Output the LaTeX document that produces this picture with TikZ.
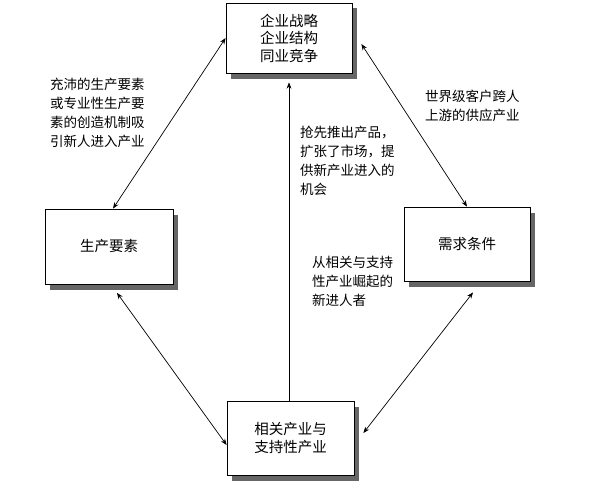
\documentclass[tikz,border=0pt]{standalone}
\usepackage{fontspec}
\setmainfont{Noto Sans CJK SC}
\usetikzlibrary{positioning}
\usetikzlibrary{calc}
\usetikzlibrary{arrows.meta}
\tikzset{
    every picture/.append style={
        >={Stealth[length=2.2mm,width=1.7mm]}
    }
}
\tikzset{
    block/.style={shape=rectangle,draw=black,line width=0.8pt,fill=white,align=center,
        font=\fontsize{14.5}{17.5}\selectfont},
    boxshadow/.style={fill=black!60,draw=none},
    note/.style={anchor=north west,inner sep=0pt,align=left,font=\fontsize{13.5}{19}\selectfont},
    link/.style={line width=0.7pt},
}

\begin{document}
\begin{tikzpicture}[x=1pt,y=-1pt]
		\useasboundingbox (0,0) rectangle (612,495);
		% shadow boxes, drawn first
		\path[boxshadow] (231,8) -- (357,8) -- (357,79) -- (231,79) -- cycle;
		\path[boxshadow] (50,215) -- (178,215) -- (178,290) -- (50,290) -- cycle;
		\path[boxshadow] (409,213) -- (535,213) -- (535,287) -- (409,287) -- cycle;
		\path[boxshadow] (232,407) -- (359,407) -- (359,481) -- (232,481) -- cycle;
		
		\node[block,minimum width=126pt,minimum height=70pt] (firm) at (289,38) {企业战略\\企业结构\\同业竞争};
		\node[block,minimum width=128pt,minimum height=75pt] (factor) at (109,246.5) {生产要素};
		\node[block,minimum width=126pt,minimum height=74pt] (demand) at (467,244) {需求条件};
		\node[block,minimum width=127pt,minimum height=74pt] (related) at (290.5,438) {相关产业与\\支持性产业};
		
		\node[note] (factortext) at (50,78) {充沛的生产要素\\或专业性生产要\\素的创造机制吸\\引新人进入产业};
		\node[note] (firmtext) at (300,126) {抢先推出产品，\\扩张了市场，提\\供新产业进入的\\机会};
		\node[note] (demandtext) at (425,90) {世界级客户跨人\\上游的供应产业};
		\node[note] (relatedtext) at (312,256) {从相关与支持\\性产业崛起的\\新进人者};
		
		\path [<->,link] (firm.west) edge ($(factor.north)+(4,0)$);
		\path [<->,link] ($(firm.east)+(9,6)$) edge (demand.north);
		\path [<->,link] ($(factor.south)+(8,8.5)$) edge ($(related.west)+(0,7)$);
		\path [<->,link] ($(demand.south)+(6,11)$) edge ($(related.east)+(9,-5)$);
		\path [->,link] (related.north -| firm.south) edge ($(firm.south)+(0,9)$);
		\end{tikzpicture}
\end{document}
